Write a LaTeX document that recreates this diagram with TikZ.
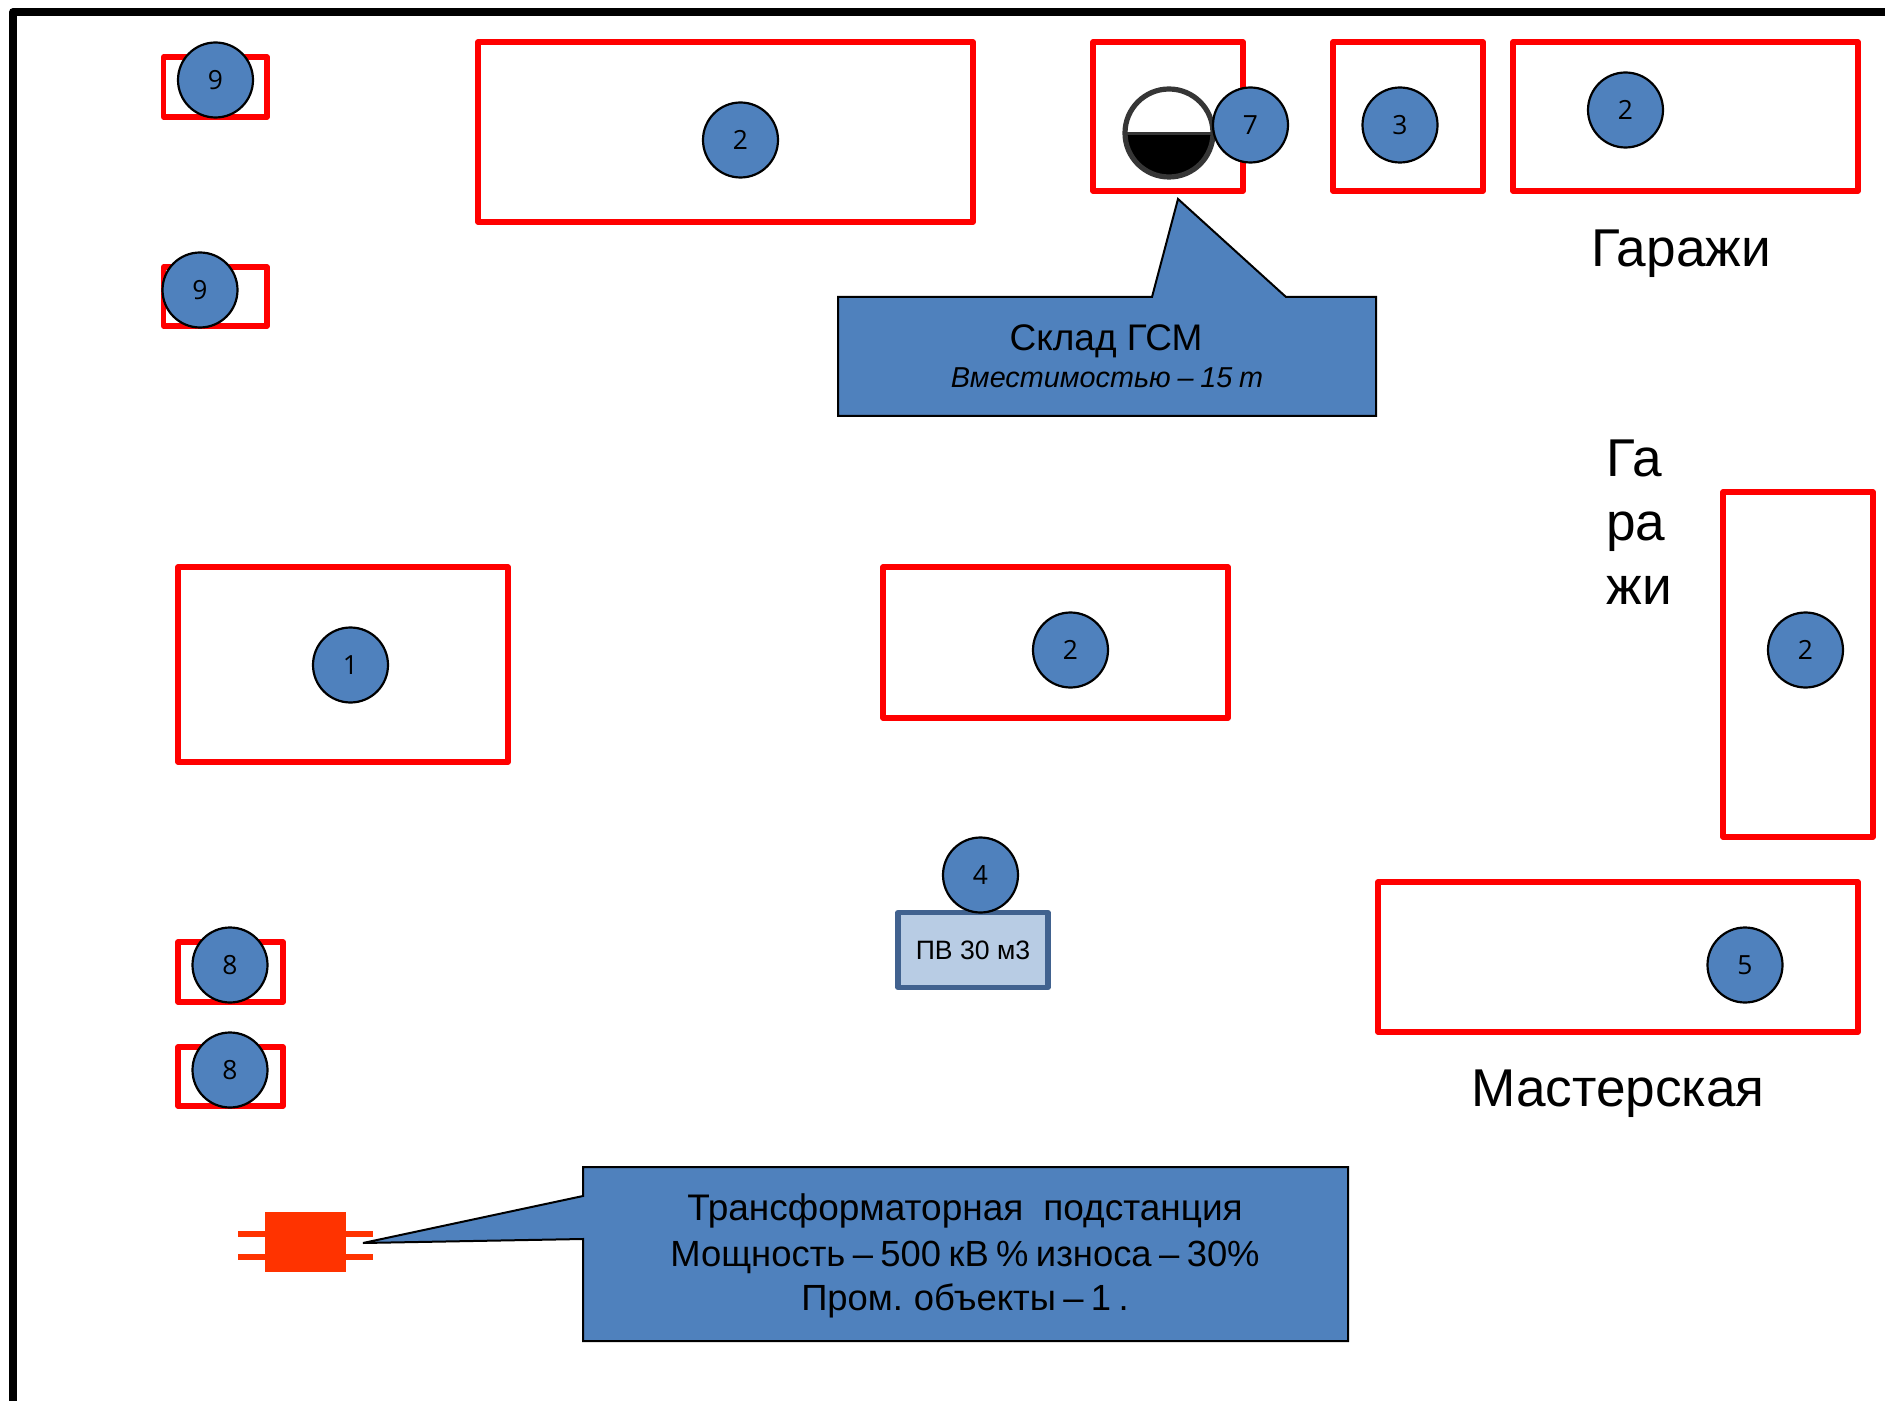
\documentclass[tikz,border=0pt]{standalone}
\usepackage{fontspec}
\setmainfont{Liberation Sans}
\newfontfamily\digitfont{Open Sans}
\definecolor{bluefill}{HTML}{4F81BD}
\definecolor{tankrim}{HTML}{363636}
\definecolor{pvfill}{HTML}{B8CCE4}
\definecolor{pvedge}{HTML}{41628F}
\definecolor{subst}{HTML}{FF3300}
\newcommand{\fs}[1]{\fontsize{#1}{#1}\selectfont}
\newcommand{\tightA}{\fs{18.2}\spaceskip 3.7pt\relax}
\newcommand{\tightB}{\fs{14.4}\itshape\spaceskip 3.4pt\relax}
\tikzset{
  x=0.5pt,y=-0.5pt,
  building/.style={draw=red,line width=2.7pt,line join=round,fill=none},
  numdot/.style={circle,draw=black,line width=1.1pt,fill=bluefill,minimum size=37.5pt,inner sep=0pt,font=\digitfont\fs{13.2}},
  callout/.style={draw=black,line width=1pt,fill=bluefill,line join=miter},
  bigtext/.style={inner sep=0pt,font=\fs{26.6},anchor=base},
  calltext/.style={inner sep=0pt,font=\tightA,anchor=base},
}
\begin{document}
\begin{tikzpicture}
\useasboundingbox (0,0) rectangle (1885,1401);
\fill[white] (0,0) rectangle (1885,1401);
% outer fence
\draw[black,line width=3.8pt,line join=round] (13,1401) -- (13,12) -- (1885,12);
% buildings
\draw[building] (163.5,57) rectangle (267,117);
\draw[building] (163.5,267) rectangle (267,326);
\draw[building] (478,42) rectangle (973,222);
\draw[building] (1093,42) rectangle (1243,191);
\draw[building] (1333,42) rectangle (1483,191);
\draw[building] (1513,42) rectangle (1858,191);
\draw[building] (178,567) rectangle (508,762);
\draw[building] (883,567) rectangle (1228,718);
\draw[building] (1723,492) rectangle (1873,837);
\draw[building] (1378,882) rectangle (1858,1032);
\draw[building] (178,942) rectangle (283,1002);
\draw[building] (178,1047) rectangle (283,1106);
% tank
\begin{scope}
\clip (1169,133) circle[radius=22pt];
\fill[black] (1115,134) rectangle (1225,190);
\end{scope}
\draw[tankrim,line width=1.5pt] (1125,134) -- (1213,134);
\draw[tankrim,line width=2.6pt] (1169,133) circle[radius=22pt];
% fuel store callout
\draw[callout] (838,297) -- (1152,297) -- (1178,199) -- (1286,297) -- (1376,297) -- (1376,416) -- (838,416) -- cycle;
\node[inner sep=0pt,anchor=base,font=\fs{18.5}] (store) at (1106,351) {Склад ГСМ};
\node[inner sep=0pt,anchor=base,font=\tightB] (storecap) at (1107,388) {Вместимостью – 15 т};
% water reservoir
\node[draw=pvedge,line width=2.6pt,fill=pvfill,line join=round,minimum width=75pt,minimum height=37.5pt,inner sep=0pt,font=\fs{13.3}] (pv) at (973,950) {ПВ 30 м3};
% numbered circles
\node[numdot] (n9a) at (215.5,80) {9};
\node[numdot] (n9b) at (200,290) {9};
\node[numdot] (n2a) at (740.5,140) {2};
\node[numdot] (n7) at (1250.5,125) {7};
\node[numdot] (n3) at (1400,125) {3};
\node[numdot] (n2b) at (1625.5,110) {2};
\node[numdot] (n1) at (350.5,665) {1};
\node[numdot] (n2c) at (1070.5,650) {2};
\node[numdot] (n2d) at (1805.5,650) {2};
\node[numdot] (n4) at (980.5,875) {4};
\node[numdot] (n5) at (1745,965) {5};
\node[numdot] (n8a) at (230,965) {8};
\node[numdot] (n8b) at (230,1070) {8};
% labels
\node[bigtext] (garages) at (1681,267) {Гаражи};
\node[bigtext,anchor=base west] (ga) at (1606,477) {Га};
\node[bigtext,anchor=base west] (ra) at (1606,540) {ра};
\node[bigtext,anchor=base west] (zhi) at (1606,604) {жи};
\node[bigtext] (workshop) at (1618,1106) {Мастерская};
% substation
\draw[subst,line width=3pt] (238,1234) -- (373,1234) (238,1257) -- (373,1257);
\fill[subst] (265,1212) rectangle (346,1272);
% substation callout
\draw[callout] (583,1167) -- (1348,1167) -- (1348,1341) -- (583,1341) -- (583,1239) -- (363,1243) -- (583,1196) -- cycle;
\node[inner sep=0pt,anchor=base,font=\fs{18.5}] (t1) at (965,1220) {Трансформаторная\hspace{10pt}подстанция};
\node[calltext] (t2) at (965,1266) {Мощность – 500 кВ \% износа – 30\%};
\node[calltext] (t3) at (965,1310) {Пром. объекты – 1 .};
\end{tikzpicture}
\end{document}
